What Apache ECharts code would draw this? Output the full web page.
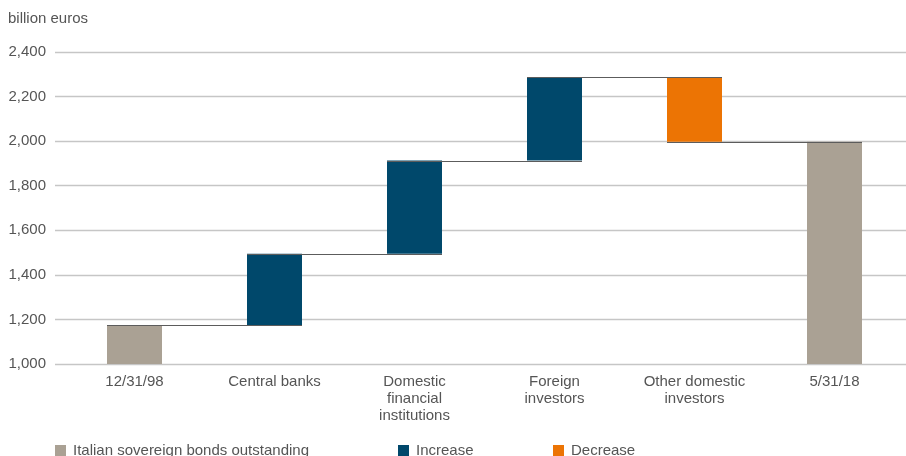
<!DOCTYPE html>
<html>
<head>
<meta charset="utf-8">
<script src="https://cdn.jsdelivr.net/npm/echarts@6/dist/echarts.min.js"></script>
<style>
html,body{margin:0;padding:0;background:#fff;}
#chart{width:906px;height:456px;}
</style>
</head>
<body>
<div id="chart"></div>
<script>
// ---- data ----
const categories = ['12/31/98', 'Central banks', 'Domestic\nfinancial\ninstitutions', 'Foreign\ninvestors', 'Other domestic\ninvestors', '5/31/18'];
// level reached after each step (billion euros)
const levels = [1175, 1495, 1913, 2286, 1997, 1997];
// kind of each bar
const kinds = ['total', 'increase', 'increase', 'increase', 'decrease', 'total'];
const yTicks = { min: 1000, max: 2400, interval: 200 };
const unitLabel = 'billion euros';
const legendNames = ['Italian sovereign bonds outstanding', 'Increase', 'Decrease'];

// ---- derive waterfall stacks ----
const baseVals = [], totalVals = [], incVals = [], decVals = [];
levels.forEach((lv, i) => {
  const prev = i > 0 ? levels[i - 1] : 0;
  if (kinds[i] === 'total') { baseVals.push(0); totalVals.push(lv); incVals.push('-'); decVals.push('-'); }
  else if (kinds[i] === 'increase') { baseVals.push(prev); totalVals.push('-'); incVals.push(lv - prev); decVals.push('-'); }
  else { baseVals.push(lv); totalVals.push('-'); incVals.push('-'); decVals.push(prev - lv); }
});
const connectorData = levels.slice(0, -1).map((lv, i) => [i, lv]);

const COL_TOTAL = '#aaa194', COL_INC = '#00486b', COL_DEC = '#ec7404';
const TXT = '#555555';
const FONT = 'Liberation Sans, Arial, sans-serif';
const FS = 15;
const BW = 55;

const chart = echarts.init(document.getElementById('chart'), null, { renderer: 'canvas' });
chart.setOption({
  animation: false,
  textStyle: { fontFamily: FONT },
  title: { text: unitLabel, left: 8, top: 11, padding: 0, textStyle: { fontSize: FS, fontWeight: 'normal', color: TXT, fontFamily: FONT } },
  legend: [
    { data: [legendNames[0]], left: 55, top: 443 },
    { data: [legendNames[1]], left: 398, top: 443 },
    { data: [legendNames[2]], left: 553, top: 443 }
  ].map(l => Object.assign(l, {
    selectedMode: false, itemWidth: 11, itemHeight: 11, icon: 'rect', padding: 0,
    textStyle: { fontSize: FS, color: TXT, fontFamily: FONT, padding: [0, 0, 0, 2] }
  })),
  grid: [
    { left: 55, right: 0, top: 52, bottom: 92 },
    { left: 64.5, right: 1.5, top: 52, bottom: 92 }
  ],
  xAxis: [
    { type: 'category', gridIndex: 0, data: categories, show: false },
    { type: 'category', gridIndex: 1, data: categories,
      axisLine: { show: false }, axisTick: { show: false },
      axisLabel: { fontSize: FS, color: TXT, lineHeight: 17, margin: 9, fontFamily: FONT, interval: 0 } }
  ],
  yAxis: [
    { type: 'value', gridIndex: 0, min: yTicks.min, max: yTicks.max, interval: yTicks.interval,
      axisLine: { show: false }, axisTick: { show: false },
      axisLabel: { fontSize: FS, color: TXT, margin: 9, fontFamily: FONT,
        formatter: v => v.toLocaleString('en-US') },
      splitLine: { show: true, lineStyle: { color: '#c6c6c6', width: 1.3 } } },
    { type: 'value', gridIndex: 1, min: yTicks.min, max: yTicks.max, interval: yTicks.interval, show: false,
      splitLine: { show: false } }
  ],
  series: [
    { name: 'base', type: 'bar', stack: 'w', xAxisIndex: 1, yAxisIndex: 1, barWidth: BW,
      itemStyle: { color: 'transparent' }, data: baseVals, silent: true },
    { name: legendNames[0], type: 'bar', stack: 'w', xAxisIndex: 1, yAxisIndex: 1, barWidth: BW,
      itemStyle: { color: COL_TOTAL }, data: totalVals },
    { name: legendNames[1], type: 'bar', stack: 'w', xAxisIndex: 1, yAxisIndex: 1, barWidth: BW,
      itemStyle: { color: COL_INC }, data: incVals },
    { name: legendNames[2], type: 'bar', stack: 'w', xAxisIndex: 1, yAxisIndex: 1, barWidth: BW,
      itemStyle: { color: COL_DEC }, data: decVals },
    { name: 'connectors', type: 'custom', xAxisIndex: 1, yAxisIndex: 1, z: 10, silent: true,
      encode: { x: 0, y: 1 },
      data: connectorData,
      renderItem: (params, api) => {
        const i = api.value(0), lv = api.value(1);
        const p0 = api.coord([i, lv]);
        const p1 = api.coord([i + 1, lv]);
        const y = Math.round(p0[1]) + 0.5;
        return { type: 'line', shape: { x1: p0[0] - BW / 2, y1: y, x2: p1[0] + BW / 2, y2: y },
          style: { stroke: '#5c5c5c', lineWidth: 1 } };
      } }
  ]
});
</script>
</body>
</html>
